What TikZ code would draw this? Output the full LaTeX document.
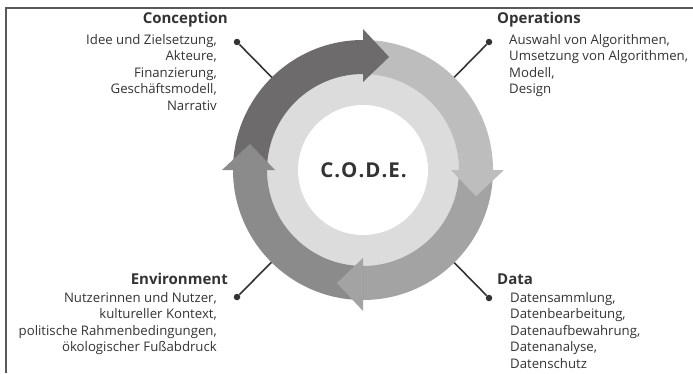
\documentclass[tikz,border=0pt]{standalone}
\usepackage{fontspec}
\setmainfont{Open Sans}
\usetikzlibrary{calc}

\definecolor{concgray}{HTML}{6E6B6C}
\definecolor{opsgray}{HTML}{BDBDBD}
\definecolor{datagray}{HTML}{A3A3A3}
\definecolor{envgray}{HTML}{8B8B8B}
\definecolor{innergray}{HTML}{DCDCDC}
\definecolor{textgray}{HTML}{333333}

% ring segment: start angle, end angle, colour
\newcommand{\ringbody}[3]{\fill[#3] (#1:130) arc[start angle=#1, end angle=#2, radius=130] -- (#2:96) arc[start angle=#2, end angle=#1, radius=96] -- cycle;}
% arrow head: base angle, colour
\newcommand{\ringhead}[2]{\fill[#2] (#1:88) -- (#1:141) -- ({#1-13}:116) -- cycle;}

\begin{document}
\begin{tikzpicture}[x=1pt, y=1pt,
    title/.style={font=\fontsize{15}{18}\selectfont\bfseries, text=textgray, inner sep=0pt},
    body/.style={font=\fontsize{13.2}{16.5}\selectfont, text=textgray, inner sep=0pt},
    pin/.style={circle, fill=black!80, inner sep=0pt, minimum size=6.5pt},
    pinline/.style={line width=1.6pt, black!80}]
    \useasboundingbox (0,0) rectangle (693,373);
    \draw[line width=2pt, black!65] (6,0) -- (6,365) -- (693,365);

    % connectors to the four labels
    \coordinate (mid) at (363,203);
    \node[pin] (pc) at (237,331) {};
    \node[pin] (po) at (489,331) {};
    \node[pin] (pe) at (237,76) {};
    \node[pin] (pd) at (489,75) {};
    \foreach \p in {pc,po,pe,pd}
        \draw[pinline] (\p) -- (mid);

    % the cycle
    \begin{scope}[shift={(mid)}]
        \fill[innergray] (0,0) circle (97);
        \fill[white] (0,0) circle (65);
        \ringbody{180}{90}{concgray}
        \ringbody{90}{0}{opsgray}
        \ringbody{0}{-90}{datagray}
        \ringbody{-90}{-180}{envgray}
        \ringhead{90}{concgray}
        \ringhead{0}{opsgray}
        \ringhead{-90}{datagray}
        \ringhead{180}{envgray}
    \end{scope}
    \node[font=\fontsize{20.5}{24}\selectfont\bfseries, text=textgray] (code) at (363.5,203)
        {C\kern1pt.\kern1pt O\kern1pt.\kern1pt D\kern1pt.\kern1pt E\kern1pt.};

    % labels
    \node[title, anchor=east] (conc) at (228,353) {Conception};
    \node[body, anchor=north east, align=right] (conctext) at (217,339) {Idee und Zielsetzung,\\Akteure,\\Finanzierung,\\Geschäftsmodell,\\Narrativ};
    \node[title, anchor=west] (ops) at (497,353) {Operations};
    \node[body, anchor=north west, align=left] (opstext) at (509,339) {Auswahl von Algorithmen,\\Umsetzung von Algorithmen,\\Modell,\\Design};
    \node[title, anchor=east] (env) at (228,94) {Environment};
    \node[body, anchor=north east, align=right] (envtext) at (217,81) {Nutzerinnen und Nutzer,\\kultureller Kontext,\\politische Rahmenbedingungen,\\ökologischer Fußabdruck};
    \node[title, anchor=west] (data) at (497,94) {Data};
    \node[body, anchor=north west, align=left] (datatext) at (510,81) {Datensammlung,\\Datenbearbeitung,\\Datenaufbewahrung,\\Datenanalyse,\\Datenschutz};
\end{tikzpicture}
\end{document}
